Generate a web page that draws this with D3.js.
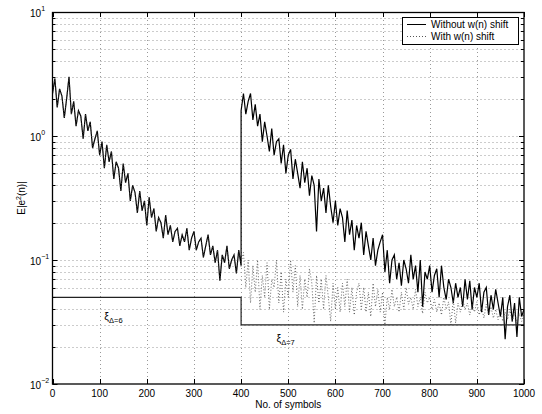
<!DOCTYPE html>
<html>
<head>
<meta charset="utf-8">
<script src="https://cdn.jsdelivr.net/npm/d3@7"></script>
<style>
  body { margin: 0; background: #fff; }
  svg { display: block; }
  text { font-family: "Liberation Sans", Arial, Helvetica, sans-serif; fill: #000; }
</style>
</head>
<body>
<svg id="chart" width="542" height="414"></svg>
<script>
// sampled every 5 symbols
var step = 5;

// E|e^2(n)| without w(n) shift, symbols 0..400
var noShiftFirst = [
  2.2, 2.9, 1.7, 2.4, 2.1, 1.4, 2.0, 3.0, 1.5, 1.9,
  1.2, 1.6, 1.45, 0.95, 1.5, 1.1, 1.3, 0.8, 0.95, 1.1,
  0.7, 0.9, 0.55, 0.85, 0.62, 0.75, 0.45, 0.62, 0.55, 0.36,
  0.6, 0.42, 0.5, 0.3, 0.4, 0.35, 0.24, 0.36, 0.25, 0.3,
  0.19, 0.32, 0.22, 0.26, 0.17, 0.22, 0.2, 0.15, 0.23, 0.16,
  0.19, 0.14, 0.17, 0.18, 0.13, 0.16, 0.14, 0.18, 0.12, 0.15,
  0.17, 0.12, 0.14, 0.15, 0.105, 0.13, 0.16, 0.11, 0.13, 0.095,
  0.12, 0.068, 0.11, 0.095, 0.13, 0.085, 0.1, 0.11, 0.078, 0.12,
  0.09
];

// without w(n) shift, symbols 400..1000
var noShiftSecond = [
  1.6, 2.2, 1.5, 1.9, 2.2, 1.35, 1.8, 1.2, 1.5, 0.9,
  1.3, 1.0, 0.75, 1.15, 0.7, 0.9, 0.95, 0.6, 0.85, 0.5,
  0.7, 0.78, 0.45, 0.65, 0.5, 0.38, 0.62, 0.42, 0.55, 0.33,
  0.48, 0.4, 0.17, 0.45, 0.3, 0.38, 0.24, 0.4, 0.27, 0.2,
  0.3, 0.19, 0.26, 0.22, 0.14, 0.25, 0.16, 0.21, 0.12, 0.19,
  0.15, 0.2, 0.11, 0.17, 0.13, 0.1, 0.15, 0.09, 0.12, 0.14,
  0.16, 0.08, 0.12, 0.065, 0.1, 0.11, 0.07, 0.095, 0.062, 0.1,
  0.085, 0.065, 0.11, 0.07, 0.09, 0.055, 0.1, 0.042, 0.08, 0.07,
  0.09, 0.055, 0.075, 0.085, 0.05, 0.09, 0.06, 0.048, 0.07, 0.06,
  0.045, 0.065, 0.05, 0.06, 0.042, 0.07, 0.048, 0.068, 0.04, 0.06,
  0.05, 0.065, 0.038, 0.055, 0.06, 0.036, 0.052, 0.04, 0.058, 0.045,
  0.035, 0.05, 0.023, 0.042, 0.052, 0.032, 0.045, 0.024, 0.05, 0.035,
  0.04
];

// with w(n) shift, symbols 400..1000 (before 400 it equals noShiftFirst)
var shiftSecond = [
  0.095, 0.115, 0.06, 0.1, 0.045, 0.09, 0.055, 0.1, 0.04, 0.075,
  0.05, 0.095, 0.04, 0.07, 0.06, 0.1, 0.045, 0.08, 0.038, 0.07,
  0.05, 0.1, 0.055, 0.09, 0.042, 0.075, 0.04, 0.07, 0.05, 0.085,
  0.065, 0.031, 0.075, 0.045, 0.07, 0.04, 0.075, 0.05, 0.032, 0.065,
  0.04, 0.06, 0.038, 0.065, 0.042, 0.07, 0.038, 0.06, 0.036, 0.055,
  0.065, 0.04, 0.06, 0.038, 0.055, 0.035, 0.065, 0.042, 0.058, 0.038,
  0.055, 0.03, 0.05, 0.04, 0.058, 0.042, 0.05, 0.038, 0.055, 0.04,
  0.06, 0.044, 0.05, 0.04, 0.058, 0.042, 0.05, 0.037, 0.055, 0.045,
  0.05, 0.04, 0.048, 0.038, 0.045, 0.036, 0.05, 0.04, 0.046, 0.03,
  0.048, 0.031, 0.045, 0.038, 0.048, 0.04, 0.045, 0.036, 0.044, 0.038,
  0.046, 0.036, 0.042, 0.034, 0.044, 0.036, 0.042, 0.034, 0.04, 0.033,
  0.04, 0.032, 0.038, 0.033, 0.04, 0.032, 0.038, 0.031, 0.037, 0.032,
  0.036
];

var switchAt = 400;
var xTicks = d3.range(0, 1001, 100);
var yTickExps = [-2, -1, 0, 1];
var xiLevels = [
  { from: 0, to: 400, value: 0.05, sub: "\u0394=6", labelX: 110, labelY: 0.033 },
  { from: 400, to: 1000, value: 0.03, sub: "\u0394=7", labelX: 475, labelY: 0.022 }
];
var legendLabels = ["Without w(n) shift", "With w(n) shift"];

(function () {
  var pl = 52.5, pr = 524, pt = 12, pb = 384;
  var svg = d3.select("#chart");

  var x = d3.scaleLinear().domain([0, 1000]).range([pl, pr]);
  var y = d3.scaleLog().domain([1e-2, 1e1]).range([pb, pt]);

  // ---- grid ----
  var minor = [];
  yTickExps.slice(0, 3).forEach(function (e) {
    for (var k = 2; k <= 9; k++) minor.push(k * Math.pow(10, e));
  });
  var gridY = minor.concat([1e-1, 1e0]);

  var grid = svg.append("g").attr("stroke", "#999").attr("stroke-width", 1)
    .attr("stroke-dasharray", "1,3");
  grid.selectAll("line.gx").data(xTicks.slice(1, -1)).enter().append("line")
    .attr("x1", function (d) { return Math.round(x(d)) + 0.5; })
    .attr("x2", function (d) { return Math.round(x(d)) + 0.5; })
    .attr("y1", pt).attr("y2", pb);
  grid.selectAll("line.gy").data(gridY).enter().append("line")
    .attr("y1", function (d) { return Math.round(y(d)) + 0.5; })
    .attr("y2", function (d) { return Math.round(y(d)) + 0.5; })
    .attr("x1", pl).attr("x2", pr);

  // ---- series ----
  svg.append("clipPath").attr("id", "plotClip").append("rect")
    .attr("x", pl).attr("y", pt).attr("width", pr - pl).attr("height", pb - pt);

  var first = noShiftFirst.map(function (v, i) { return [i * step, v]; });
  var solid = first.concat(noShiftSecond.map(function (v, i) { return [switchAt + i * step, v]; }));
  var dotted = first.concat(shiftSecond.map(function (v, i) { return [switchAt + i * step, v]; }));

  var line = d3.line()
    .x(function (d) { return x(d[0]); })
    .y(function (d) { return y(d[1]); });

  var plot = svg.append("g").attr("clip-path", "url(#plotClip)");

  plot.append("path").datum(solid)
    .attr("d", line).attr("fill", "none").attr("stroke", "#000").attr("stroke-width", 1.2);

  plot.append("path").datum(dotted)
    .attr("d", line).attr("fill", "none").attr("stroke", "#444").attr("stroke-width", 0.8)
    .attr("stroke-dasharray", "1,2");

  // xi step levels
  var xiPts = [];
  xiLevels.forEach(function (l) { xiPts.push([l.from, l.value], [l.to, l.value]); });
  plot.append("path").datum(xiPts)
    .attr("d", line).attr("fill", "none").attr("stroke", "#222").attr("stroke-width", 1.2);

  xiLevels.forEach(function (l) {
    var t = svg.append("text")
      .attr("x", x(l.labelX)).attr("y", y(l.labelY))
      .attr("font-size", 10.5);
    t.append("tspan").text("\u03be");
    t.append("tspan").attr("dy", 3).attr("font-size", 7.5).text(l.sub);
  });

  // ---- axes box and ticks ----
  var axes = svg.append("g").attr("stroke", "#000").attr("stroke-width", 1);
  axes.append("rect")
    .attr("x", pl).attr("y", pt + 0.5).attr("width", pr - pl).attr("height", pb - pt - 0.5)
    .attr("fill", "none").attr("stroke-width", 1.3);

  xTicks.forEach(function (d) {
    var px = Math.round(x(d)) + 0.5;
    axes.append("line").attr("x1", px).attr("x2", px).attr("y1", pb).attr("y2", pb - 5);
    axes.append("line").attr("x1", px).attr("x2", px).attr("y1", pt).attr("y2", pt + 5);
  });
  yTickExps.forEach(function (e) {
    var py = Math.round(y(Math.pow(10, e))) + 0.5;
    axes.append("line").attr("x1", pl).attr("x2", pl + 5).attr("y1", py).attr("y2", py);
    axes.append("line").attr("x1", pr).attr("x2", pr - 5).attr("y1", py).attr("y2", py);
  });
  minor.forEach(function (d) {
    var py = Math.round(y(d)) + 0.5;
    axes.append("line").attr("x1", pl).attr("x2", pl + 3).attr("y1", py).attr("y2", py);
    axes.append("line").attr("x1", pr).attr("x2", pr - 3).attr("y1", py).attr("y2", py);
  });

  // tick labels
  svg.selectAll("text.xt").data(xTicks).enter().append("text")
    .attr("class", "xt")
    .attr("x", function (d) { return x(d); })
    .attr("y", pb + 13)
    .attr("text-anchor", "middle")
    .attr("font-size", 10)
    .text(function (d) { return d; });

  yTickExps.forEach(function (e) {
    var py = y(Math.pow(10, e));
    var t = svg.append("text").attr("x", 30).attr("y", py + 5).attr("font-size", 10);
    t.append("tspan").text("10");
    t.append("tspan").attr("dy", -6).attr("font-size", 7).text(e < 0 ? "\u2212" + (-e) : e);
  });

  // axis titles
  svg.append("text")
    .attr("x", (pl + pr) / 2).attr("y", 408)
    .attr("text-anchor", "middle").attr("font-size", 10)
    .text("No. of symbols");

  var yl = svg.append("text")
    .attr("transform", "translate(25," + ((pt + pb) / 2) + ") rotate(-90)")
    .attr("text-anchor", "middle").attr("font-size", 10);
  yl.append("tspan").text("E|e");
  yl.append("tspan").attr("dy", -4).attr("font-size", 7).text("2");
  yl.append("tspan").attr("dy", 4).text("(n)|");

  // ---- legend ----
  var lg = svg.append("g");
  lg.append("rect").attr("x", 402.5).attr("y", 17.5).attr("width", 116).attr("height", 27)
    .attr("fill", "#fff").attr("stroke", "#000").attr("stroke-width", 1);
  legendLabels.forEach(function (label, i) {
    var ly = 24.5 + i * 12;
    lg.append("line").attr("x1", 407).attr("x2", 426).attr("y1", ly).attr("y2", ly)
      .attr("stroke", i === 0 ? "#000" : "#555").attr("stroke-width", 1)
      .attr("stroke-dasharray", i === 0 ? null : "1,2");
    lg.append("text").attr("x", 431).attr("y", ly + 3.5).attr("font-size", 10).text(label);
  });
})();
</script>
</body>
</html>
